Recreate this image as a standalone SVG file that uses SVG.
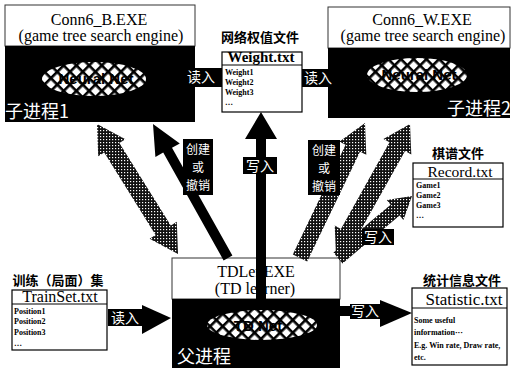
<svg xmlns="http://www.w3.org/2000/svg" width="514" height="374" viewBox="0 0 514 374">
<defs>
<pattern id="xh" patternUnits="userSpaceOnUse" width="9" height="9" patternTransform="rotate(45)">
<rect width="9" height="9" fill="#fff"/>
<rect width="9" height="2.6" fill="#000"/>
<rect width="2.6" height="9" fill="#000"/>
</pattern>
<pattern id="fine" patternUnits="userSpaceOnUse" width="3" height="3">
<rect width="3" height="3" fill="#111"/>
<rect x="1" y="1" width="1.2" height="1.2" fill="#fff"/>
</pattern>
<style>
.top{fill:#fff;stroke:#333;stroke-width:1}
.blk{fill:#000}
.ell{fill:url(#xh)}
.en{font-family:"Liberation Serif",serif;font-size:16px;fill:#000;text-anchor:middle}
.hdr{font-family:"Liberation Serif",serif;font-size:16px;fill:#000;text-anchor:middle}
.item{font-family:"Liberation Serif",serif;font-size:8px;font-weight:bold;fill:#000}
.cap{font-family:"Noto Sans CJK SC",sans-serif;font-size:13px;font-weight:bold;fill:#000;text-anchor:middle}
.proc{font-family:"Noto Sans CJK SC",sans-serif;font-size:18px;fill:#fff}
.lbl{font-family:"Noto Sans CJK SC",sans-serif;font-size:14px;fill:#fff;text-anchor:middle}
.lb3{font-family:"Noto Sans CJK SC",sans-serif;font-size:12px;fill:#fff;text-anchor:middle}
.nn{font-family:"Liberation Sans",sans-serif;font-size:15px;font-weight:bold;fill:#000;text-anchor:middle}
.file{fill:#fff;stroke:#000;stroke-width:1.2}
.hat{fill:url(#fine)}
</style>
</defs>

<g id="conn6_b">
<rect class="top" x="5" y="5" width="190" height="41"/>
<rect class="blk" x="5" y="46" width="190" height="76"/>
<text class="en" x="99" y="25">Conn6_B.EXE</text>
<text class="en" x="101" y="41">(game tree search engine)</text>
<ellipse class="ell" cx="94" cy="79" rx="52" ry="17"/>
<text class="nn" x="96" y="84">Neural Net</text>
<text class="proc" x="5" y="118">子进程1</text>
</g>

<g id="conn6_w">
<rect class="top" x="328" y="7" width="182" height="41"/>
<rect class="blk" x="328" y="48" width="182" height="70"/>
<text class="en" x="422" y="25">Conn6_W.EXE</text>
<text class="en" x="423" y="41">(game tree search engine)</text>
<ellipse class="ell" cx="417" cy="75" rx="50" ry="17"/>
<text class="nn" x="419" y="80">Neural Net</text>
<text class="proc" x="447" y="115">子进程2</text>
</g>

<g id="tdler">
<rect class="top" x="172" y="258" width="168" height="41"/>
<rect class="blk" x="172" y="299" width="168" height="69"/>
<text class="en" x="256" y="277">TDLer.EXE</text>
<text class="en" x="255" y="294">(TD learner)</text>
<ellipse class="ell" cx="262" cy="325" rx="55" ry="15"/>
<text class="nn" x="258" y="331">TD Net</text>
<text class="proc" x="177" y="363">父进程</text>
</g>

<g id="weight">
<text class="cap" x="260" y="42">网络权值文件</text>
<rect class="file" x="222" y="52" width="80" height="60"/>
<line x1="222" y1="65" x2="302" y2="65" stroke="#000" stroke-width="1"/>
<text class="hdr" x="261" y="62" font-weight="bold" style="font-size:15px">Weight.txt</text>
<text class="item" x="225" y="75">Weight1</text>
<text class="item" x="225" y="85">Weight2</text>
<text class="item" x="225" y="95">Weight3</text>
<text class="item" x="225" y="105">…</text>
</g>

<g id="record">
<text class="cap" x="458" y="158">棋谱文件</text>
<rect class="file" x="413" y="163" width="90" height="64"/>
<line x1="413" y1="179" x2="503" y2="179" stroke="#000" stroke-width="1"/>
<text class="hdr" x="460" y="177" style="font-size:15.5px">Record.txt</text>
<text class="item" x="416" y="188">Game1</text>
<text class="item" x="416" y="198">Game2</text>
<text class="item" x="416" y="208">Game3</text>
<text class="item" x="416" y="218">…</text>
</g>

<g id="trainset">
<text class="cap" x="58" y="285">训练（局面）集</text>
<rect class="file" x="12" y="290" width="95" height="60"/>
<line x1="12" y1="304" x2="107" y2="304" stroke="#000" stroke-width="1"/>
<text class="hdr" x="60" y="302">TrainSet.txt</text>
<text class="item" x="14" y="314">Position1</text>
<text class="item" x="14" y="324">Position2</text>
<text class="item" x="14" y="335">Position3</text>
<text class="item" x="14" y="346">…</text>
</g>

<g id="statistic">
<text class="cap" x="462" y="285">统计信息文件</text>
<rect class="file" x="412" y="288" width="95" height="77"/>
<line x1="412" y1="308" x2="507" y2="308" stroke="#000" stroke-width="1"/>
<text class="hdr" x="464" y="305" style="font-size:17px">Statistic.txt</text>
<text class="item" x="414" y="323">Some useful</text>
<text class="item" x="414" y="335">information···</text>
<text class="item" x="414" y="348">E.g. Win rate, Draw rate,</text>
<text class="item" x="414" y="360">etc.</text>
</g>

<g id="connectors">
<polygon class="hat" points="97,124 125.4,139.3 119.4,143 170.8,225.4 176.8,221.7 178,254 149.6,238.7 155.6,235 104.2,152.6 98.2,156.3"/>
<polygon class="hat" points="292.8,254.5 345.6,144.7 339.3,141.7 365,123 366.3,154.7 360,151.7 307.2,261.5"/>
<polygon class="hat" points="336,256 334.7,225.5 340.9,228.9 389.5,142.3 383.4,138.9 410,124 411.3,154.5 405.1,151.1 356.5,237.7 362.7,241.1"/>
<polygon class="hat" points="333.5,252.6 390.6,204.7 386.8,200.1 412,196 403.4,220.1 399.6,215.5 342.5,263.4"/>
<polygon class="blk" points="232.4,255.6 172,147.8 179.8,143.4 153,124 155.4,157 163.2,152.6 223.6,260.4"/>
<polygon class="blk" points="256,300 256,139 245,139 261,112 277,139 266,139 266,300"/>
<rect class="blk" x="190" y="68" width="32" height="19"/>
<text class="lbl" x="201" y="82">读入</text>
<rect class="blk" x="302" y="69" width="28" height="18"/>
<text class="lbl" x="318" y="83">读入</text>
<rect class="blk" x="243" y="157" width="34" height="17"/>
<text class="lbl" x="260" y="171">写入</text>
<rect class="blk" x="183" y="139" width="30" height="56"/>
<text class="lb3" x="198" y="154">创建</text>
<text class="lb3" x="198" y="172">或</text>
<text class="lb3" x="198" y="190">撤销</text>
<rect class="blk" x="308" y="140" width="32" height="55"/>
<text class="lb3" x="324" y="155">创建</text>
<text class="lb3" x="324" y="173">或</text>
<text class="lb3" x="324" y="191">撤销</text>
<rect class="blk" x="362" y="229" width="32" height="16"/>
<text class="lbl" x="378" y="242">写入</text>
<rect class="blk" x="108" y="309" width="35" height="17"/>
<text class="lbl" x="125" y="323">读入</text>
<polygon class="blk" points="142,305 171,318 142,334"/>
<rect class="blk" x="340" y="306" width="12" height="10"/>
<rect class="blk" x="350" y="304" width="31" height="15"/>
<text class="lbl" x="365" y="316">写入</text>
<polygon class="blk" points="380,300 412,313 380,327"/>
</g>
</svg>
